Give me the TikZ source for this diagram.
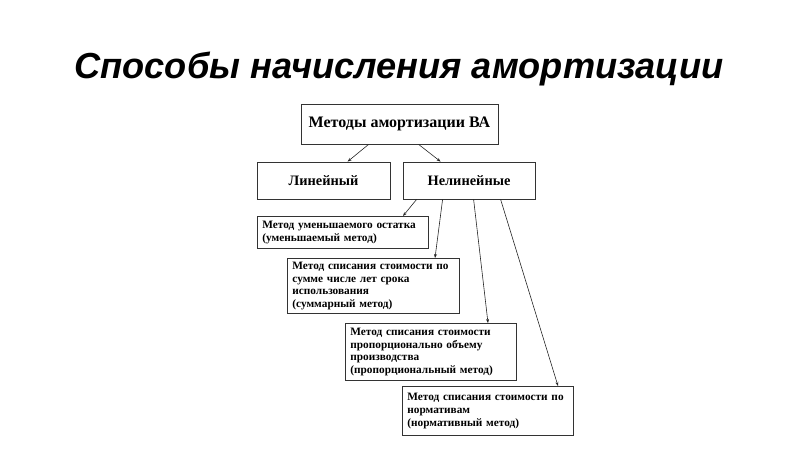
\documentclass[tikz,border=0pt]{standalone}
\usepackage{fontspec}
\setmainfont{Liberation Serif}
\newfontfamily\titlefont{Liberation Sans}
\usetikzlibrary{arrows.meta,calc}
\tikzset{
  x=1pt,y=-1pt,
  bigbox/.style={draw=black!80,line width=0.8pt,minimum width=#1,inner sep=0pt,font=\fontsize{14.4}{16}\selectfont\bfseries},
  smallbox/.style={draw=black!80,line width=0.8pt,anchor=north west,inner xsep=5pt,inner ysep=0pt,align=left,font=\fontsize{11.3}{12.6}\selectfont\bfseries},
  arr/.style={draw=black!85,line width=0.6pt,-{Stealth[length=4pt,width=3pt]}}
}
\begin{document}
\begin{tikzpicture}
\useasboundingbox (0,0) rectangle (800,450);
\node[font=\titlefont\fontsize{36.2}{40}\selectfont\bfseries\itshape,anchor=base] (title) at (399,78) {Способы начисления амортизации};
\node[bigbox=197pt,minimum height=40pt,font=\fontsize{16}{18}\selectfont\bfseries] (A) at (399.5,124) {Методы амортизации ВА};
\node[bigbox=133pt,minimum height=37pt] (B) at (323.5,180.5) {Линейный};
\node[bigbox=132pt,minimum height=37pt] (C) at (469,180.5) {Нелинейные};
\node[smallbox,text width=161pt,minimum height=32pt] (D) at (257,216) {Метод уменьшаемого остатка\\(уменьшаемый метод)};
\node[smallbox,text width=162pt,minimum height=55pt] (E) at (287,258) {Метод списания стоимости по\\сумме числе лет срока\\использования\\(суммарный метод)};
\node[smallbox,text width=161pt,minimum height=57pt] (F) at (345,323) {Метод списания стоимости\\пропорционально объему\\производства\\(пропорциональный метод)};
\node[smallbox,text width=161pt,minimum height=49pt] (G) at (402,386) {Метод списания стоимости по\\нормативам\\(нормативный метод)};
\draw[arr] ([xshift=68pt]A.south west) -- ([xshift=91pt]B.north west);
\draw[arr] ([xshift=118pt]A.south west) -- ([xshift=38pt]C.north west);
\draw[arr] ([xshift=14pt]C.south west) -- ([xshift=146pt]D.north west);
\draw[arr] ([xshift=40pt]C.south west) -- ([xshift=148pt]E.north west);
\draw[arr] ([xshift=71pt]C.south west) -- ([xshift=143pt]F.north west);
\draw[arr] ([xshift=98pt]C.south west) -- ([xshift=156pt]G.north west);
\end{tikzpicture}
\end{document}
